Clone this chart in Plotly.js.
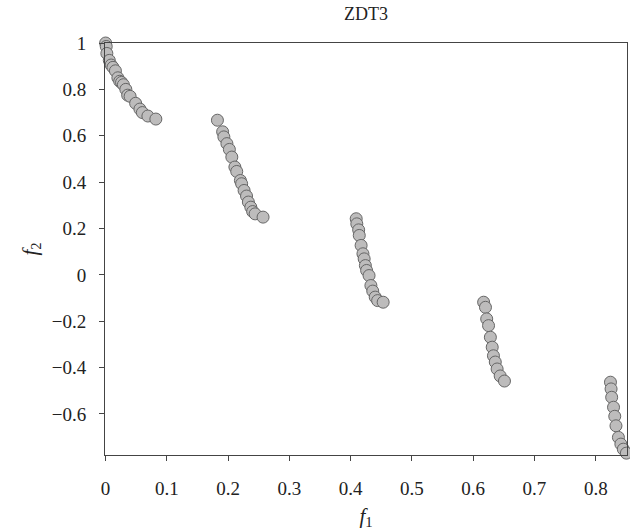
<!DOCTYPE html>
<html>
<head>
<meta charset="utf-8">
<script src="https://cdn.plot.ly/plotly-3.0.1.min.js"></script>
<style>html,body{margin:0;padding:0;background:#fff;}#chart{width:630px;height:531px;}</style>
</head>
<body>
<div id="chart"></div>
<script>
// Pareto front points (f1, f2)
const f1Values = [
  0.000, 0.001, 0.002, 0.006, 0.009, 0.012, 0.016, 0.020, 0.023, 0.026, 0.029, 0.033, 0.036, 0.040, 0.049, 0.056, 0.060, 0.069, 0.082,
  0.1825, 0.191, 0.193, 0.198, 0.202, 0.206, 0.211, 0.214, 0.220, 0.222, 0.226, 0.230, 0.233, 0.237, 0.240, 0.244, 0.257,
  0.409, 0.410, 0.413, 0.414, 0.417, 0.420, 0.422, 0.424, 0.426, 0.430, 0.433, 0.436, 0.440, 0.444, 0.453,
  0.617, 0.620, 0.622, 0.625, 0.628, 0.631, 0.633, 0.636, 0.639, 0.644, 0.651,
  0.824, 0.825, 0.826, 0.829, 0.831, 0.833, 0.837, 0.841, 0.845, 0.850
];
const f2Values = [
  1.000, 0.985, 0.955, 0.925, 0.905, 0.895, 0.880, 0.850, 0.835, 0.830, 0.820, 0.800, 0.775, 0.770, 0.740, 0.715, 0.700, 0.685, 0.672,
  0.667, 0.617, 0.595, 0.566, 0.541, 0.508, 0.465, 0.446, 0.407, 0.393, 0.364, 0.340, 0.314, 0.292, 0.273, 0.263, 0.249,
  0.242, 0.220, 0.194, 0.170, 0.127, 0.091, 0.069, 0.040, 0.019, -0.003, -0.046, -0.070, -0.096, -0.111, -0.118,
  -0.118, -0.140, -0.190, -0.219, -0.269, -0.312, -0.349, -0.376, -0.406, -0.436, -0.458,
  -0.463, -0.492, -0.528, -0.571, -0.610, -0.651, -0.701, -0.730, -0.752, -0.769
];
const xTickVals = [0, 0.1, 0.2, 0.3, 0.4, 0.5, 0.6, 0.7, 0.8];
const xTickText = ['0', '0.1', '0.2', '0.3', '0.4', '0.5', '0.6', '0.7', '0.8'];
const yTickVals = [-0.6, -0.4, -0.2, 0, 0.2, 0.4, 0.6, 0.8, 1];
const yTickText = ['\u22120.6', '\u22120.4', '\u22120.2', '0', '0.2', '0.4', '0.6', '0.8', '1'];

const fontFam = 'Liberation Serif';

const trace = {
  x: f1Values, y: f2Values,
  type: 'scatter', mode: 'markers',
  cliponaxis: false,
  marker: {size: 12, color: '#bdbcbc', line: {color: '#666666', width: 1}},
  hoverinfo: 'skip'
};

const axisCommon = {
  showline: true, mirror: true, linecolor: '#444444', linewidth: 1,
  ticks: 'outside', ticklen: 5, tickwidth: 1, tickcolor: '#444444',
  showgrid: false, zeroline: false,
  tickfont: {family: fontFam, size: 19, color: '#222222'},
  tickmode: 'array'
};

const layout = {
  width: 630, height: 531,
  margin: {l: 105, r: 3, t: 43, b: 76},
  paper_bgcolor: '#ffffff', plot_bgcolor: '#ffffff',
  showlegend: false,
  font: {family: fontFam, color: '#222222'},
  title: {text: 'ZDT3', font: {family: fontFam, size: 18, color: '#222222'},
          x: 0.5, xref: 'paper', y: 0.975, yref: 'container', yanchor: 'middle'},
  xaxis: Object.assign({}, axisCommon, {
    range: [-0.001, 0.851], tickvals: xTickVals, ticktext: xTickText,
    ticklabelstandoff: 11,
    title: {text: '<i>f</i><sub>1</sub>', font: {family: fontFam, size: 21}, standoff: 10}
  }),
  yaxis: Object.assign({}, axisCommon, {
    range: [-0.777, 1.0], tickvals: yTickVals, ticktext: yTickText,
    ticklabelstandoff: 9,
    title: {text: '<i>f</i><sub>2</sub>', font: {family: fontFam, size: 21}, standoff: 8}
  })
};

Plotly.newPlot('chart', [trace], layout, {staticPlot: true, displayModeBar: false});
</script>
</body>
</html>
